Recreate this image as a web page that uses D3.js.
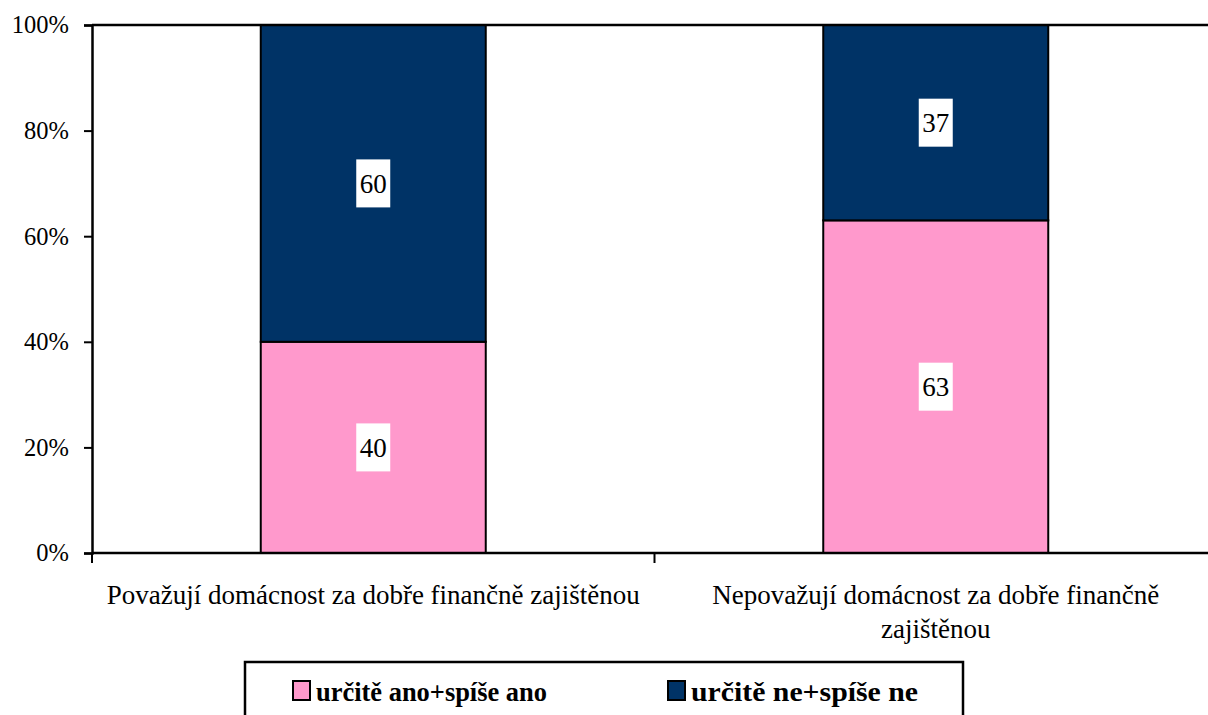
<!DOCTYPE html>
<html>
<head>
<meta charset="utf-8">
<script src="https://cdn.jsdelivr.net/npm/d3@7"></script>
<style>
  body { margin: 0; background: #fff; }
  svg { display: block; font-family: "Liberation Serif", "Times New Roman", serif; }
</style>
</head>
<body>
<svg id="chart"></svg>
<script>
// data
let categories = [
    ["Považují domácnost za dobře finančně zajištěnou"],
    ["Nepovažují domácnost za dobře finančně", "zajištěnou"]
];
let seriesNames = ["určitě ano+spíše ano", "určitě ne+spíše ne"];
let seriesColors = ["#FF99CC", "#003366"];
let yesValues = [40, 63];
let noValues = [60, 37];
let yTicks = [0, 20, 40, 60, 80, 100];

function drawChart() {
    let width = 1208;
    let height = 715;
    let marginLeft = 92;
    let marginTop = 25;
    let plotHeight = 528;
    let bandWidth = 562.5;

    let svg = d3.select("#chart")
        .attr("width", width)
        .attr("height", height);

    let catKeys = categories.map((c, i) => i);
    let scaleX = d3.scaleBand()
        .domain(catKeys)
        .range([marginLeft, marginLeft + bandWidth * catKeys.length])
        .padding(0);
    let scaleY = d3.scaleLinear()
        .domain([0, 100])
        .range([marginTop + plotHeight, marginTop]);

    // stacked data
    let rows = catKeys.map(i => ({yes: yesValues[i], no: noValues[i]}));
    let stack = d3.stack().keys(["yes", "no"]);
    let stacked = stack(rows);

    let barW = scaleX.bandwidth() * 0.4;

    // bars
    stacked.forEach((layer, li) => {
        svg.append("g")
            .selectAll("rect")
            .data(layer)
            .enter()
            .append("rect")
            .attr("x", (d, i) => scaleX(i) + (scaleX.bandwidth() - barW) / 2)
            .attr("width", barW)
            .attr("y", d => scaleY(d[1]))
            .attr("height", d => scaleY(d[0]) - scaleY(d[1]))
            .attr("fill", seriesColors[li])
            .attr("stroke", "#000")
            .attr("stroke-width", 2);
    });

    // plot top line
    svg.append("line")
        .attr("x1", marginLeft).attr("x2", width)
        .attr("y1", scaleY(100)).attr("y2", scaleY(100))
        .attr("stroke", "#000").attr("stroke-width", 2.5);

    // y axis
    let axisY = d3.axisLeft(scaleY)
        .tickValues(yTicks)
        .tickFormat(d => d + "%")
        .tickSize(8)
        .tickPadding(15);
    let gy = svg.append("g")
        .attr("transform", `translate(${marginLeft},0)`)
        .call(axisY);
    gy.select(".domain").attr("stroke", "#000").attr("stroke-width", 2.5);
    gy.selectAll(".tick line").attr("stroke", "#000").attr("stroke-width", 2);
    gy.selectAll(".tick text")
        .attr("fill", "#000")
        .style("font-size", "24.5px")
        .style("font-family", "'Liberation Serif', 'Times New Roman', serif");

    // x axis line + ticks at band boundaries
    let baseY = scaleY(0);
    svg.append("line")
        .attr("x1", marginLeft).attr("x2", width)
        .attr("y1", baseY).attr("y2", baseY)
        .attr("stroke", "#000").attr("stroke-width", 2.5);
    let bounds = catKeys.map(i => scaleX(i)).concat([scaleX.range()[1]]);
    svg.append("g")
        .selectAll("line")
        .data(bounds)
        .enter()
        .append("line")
        .attr("x1", d => d).attr("x2", d => d)
        .attr("y1", baseY).attr("y2", baseY + 10)
        .attr("stroke", "#000").attr("stroke-width", 2);

    // category labels
    let catG = svg.append("g");
    categories.forEach((lines, i) => {
        let t = catG.append("text")
            .attr("x", scaleX(i) + scaleX.bandwidth() / 2)
            .attr("y", 604)
            .attr("text-anchor", "middle")
            .style("font-size", "27px")
            .attr("fill", "#000");
        lines.forEach((ln, j) => {
            t.append("tspan")
                .attr("x", scaleX(i) + scaleX.bandwidth() / 2)
                .attr("dy", j == 0 ? 0 : 34)
                .text(ln);
        });
    });

    // value labels with white boxes
    stacked.forEach((layer) => {
        layer.forEach((d, i) => {
            let cx = scaleX(i) + scaleX.bandwidth() / 2;
            let cy = (scaleY(d[0]) + scaleY(d[1])) / 2;
            let g = svg.append("g");
            g.append("rect")
                .attr("x", cx - 17)
                .attr("y", cy - 24)
                .attr("width", 34)
                .attr("height", 48)
                .attr("fill", "#fff");
            g.append("text")
                .attr("x", cx)
                .attr("y", cy + 9.5)
                .attr("text-anchor", "middle")
                .style("font-size", "27px")
                .attr("fill", "#000")
                .text(d[1] - d[0]);
        });
    });

    // legend
    let legend = svg.append("g");
    legend.append("rect")
        .attr("x", 245).attr("y", 662)
        .attr("width", 718).attr("height", 80)
        .attr("fill", "#fff")
        .attr("stroke", "#000").attr("stroke-width", 2.5);
    let legendX = [293, 668];
    let legendTextW = [231, 227];
    let items = legend.selectAll(".legendItem")
        .data(seriesNames)
        .enter()
        .append("g")
        .attr("class", "legendItem")
        .attr("transform", (d, i) => `translate(${legendX[i]}, 681)`);
    items.append("rect")
        .attr("width", 17)
        .attr("height", 19)
        .attr("fill", (d, i) => seriesColors[i])
        .attr("stroke", "#000")
        .attr("stroke-width", 2);
    items.append("text")
        .attr("x", 23)
        .attr("y", 20)
        .attr("textLength", (d, i) => legendTextW[i])
        .attr("lengthAdjust", "spacingAndGlyphs")
        .style("font-size", "26.5px")
        .style("font-weight", "bold")
        .attr("fill", "#000")
        .text(d => d);
}

drawChart();
</script>
</body>
</html>
